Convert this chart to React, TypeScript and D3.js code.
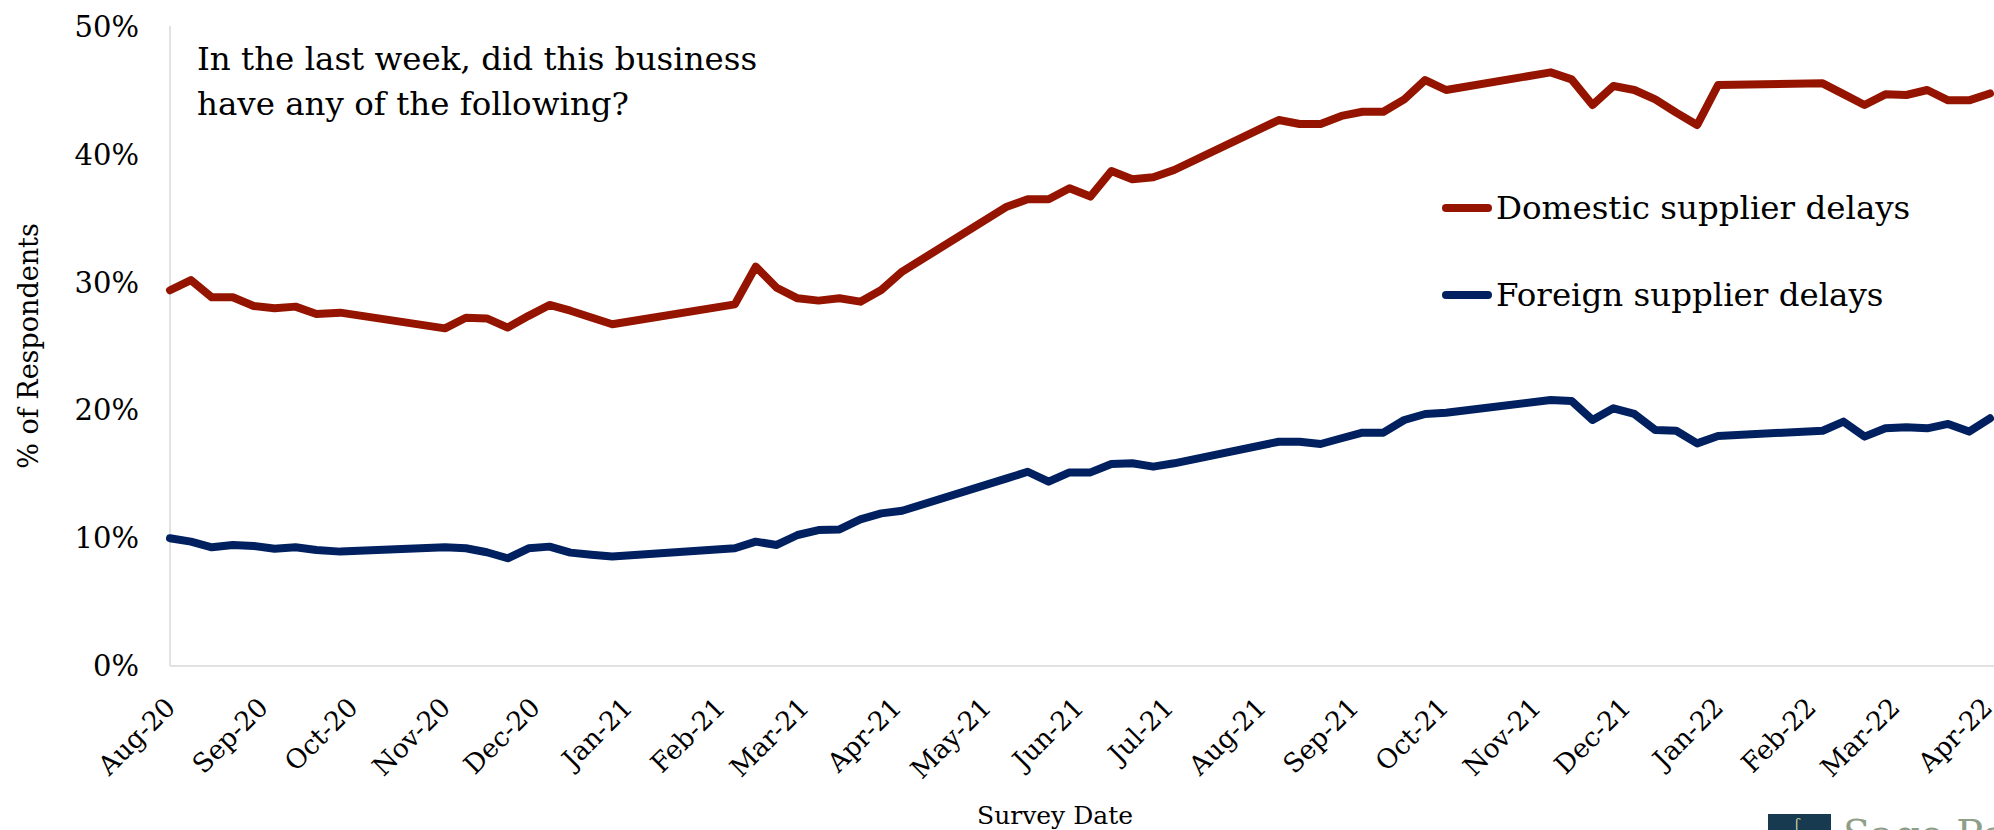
import React, { useEffect } from "react";
import * as d3 from "d3";

// ---- data (weekly survey dates, % of respondents) ----
const surveyDates = [
  "2020-08-09", "2020-08-16", "2020-08-23", "2020-08-30", "2020-09-06", "2020-09-13", "2020-09-20", "2020-09-27", "2020-10-05",
  "2020-11-09", "2020-11-16", "2020-11-23", "2020-11-30", "2020-12-07", "2020-12-14", "2020-12-21", "2020-12-28", "2021-01-04",
  "2021-02-14", "2021-02-21", "2021-02-28", "2021-03-07", "2021-03-14", "2021-03-21", "2021-03-28", "2021-04-04", "2021-04-11",
  "2021-05-16", "2021-05-23", "2021-05-30", "2021-06-06", "2021-06-13", "2021-06-20", "2021-06-27", "2021-07-04", "2021-07-11",
  "2021-08-15", "2021-08-22", "2021-08-29", "2021-09-05", "2021-09-12", "2021-09-19", "2021-09-26", "2021-10-03", "2021-10-10",
  "2021-11-14", "2021-11-21", "2021-11-28", "2021-12-05", "2021-12-12", "2021-12-19", "2021-12-26", "2022-01-02", "2022-01-09",
  "2022-02-13", "2022-02-20", "2022-02-27", "2022-03-06", "2022-03-13", "2022-03-20", "2022-03-27", "2022-04-03", "2022-04-10",
];

const domesticDelays = [
  29.4, 30.2, 28.85, 28.85, 28.17, 27.99, 28.12, 27.54, 27.65,
  26.42, 27.25, 27.2, 26.48, 27.4, 28.25, 27.8, 27.27, 26.74,
  28.3, 31.25, 29.6, 28.77, 28.59, 28.77, 28.51, 29.42, 30.86,
  35.94, 36.52, 36.52, 37.38, 36.73, 38.73, 38.08, 38.24, 38.81,
  42.72, 42.41, 42.41, 43.04, 43.37, 43.37, 44.34, 45.85, 45.07,
  46.45, 45.9, 43.9, 45.38, 45.07, 44.34, 43.3, 42.33, 45.46,
  45.59, 44.75, 43.9, 44.73, 44.68, 45.07, 44.26, 44.26, 44.8,
];

const foreignDelays = [
  10.0, 9.73, 9.29, 9.47, 9.39, 9.18, 9.29, 9.08, 8.95,
  9.29, 9.21, 8.9, 8.43, 9.21, 9.34, 8.87, 8.7, 8.56,
  9.21, 9.73, 9.47, 10.25, 10.64, 10.69, 11.47, 11.94, 12.15,
  14.68, 15.2, 14.42, 15.15, 15.15, 15.8, 15.86, 15.6, 15.86,
  17.55, 17.55, 17.37, 17.82, 18.26, 18.26, 19.25, 19.72, 19.82,
  20.81, 20.74, 19.25, 20.16, 19.72, 18.47, 18.41, 17.42, 18.0,
  18.41, 19.12, 17.95, 18.6, 18.68, 18.6, 18.94, 18.34, 19.38,
];

const yTicks = [0, 10, 20, 30, 40, 50];
const axisStart = "2020-08-09";
const axisEnd = "2022-04-10";
const monthTickCount = 21;

const seriesNames = ["Domestic supplier delays", "Foreign supplier delays"];
const seriesColors = ["#941400", "#002060"];
const titleLines = ["In the last week, did this business", "have any of the following?"];

const FONT = "'DejaVu Serif', serif";

export default function App() {
  useEffect(() => {
    document.body.style.margin = "0";
  }, []);

  const W = 1994;
  const H = 830;
  const left = 170;
  const right = 1990;
  const top = 27;
  const bottom = 666;

  const parse = d3.timeParse("%Y-%m-%d");
  const dates = surveyDates.map((s) => parse(s) as Date);
  const x = d3.scaleTime().domain([parse(axisStart) as Date, parse(axisEnd) as Date]).range([left, right]);
  const y = d3.scaleLinear().domain([0, 50]).range([bottom, top]);

  const monthTicks = d3.range(monthTickCount).map((i) => d3.timeMonth.offset(parse(axisStart) as Date, i));
  const fmt = d3.timeFormat("%b-%y");

  const line = d3
    .line<number>()
    .x((_, i) => x(dates[i]))
    .y((v) => y(v));

  const series = [domesticDelays, foreignDelays];

  return (
    <svg width={W} height={H} style={{ display: "block", position: "absolute", left: 0, top: 0, background: "#fff" }} fontFamily={FONT}>
      <rect x={0} y={0} width={W} height={H} fill="#ffffff" />
      {/* axes */}
      <line x1={left} x2={left} y1={top - 1} y2={bottom} stroke="#d9d9d9" strokeWidth={1.5} />
      <line x1={left} x2={W} y1={bottom} y2={bottom} stroke="#d9d9d9" strokeWidth={1.5} />

      {/* y tick labels */}
      {yTicks.map((t) => (
        <text key={t} x={139} y={y(t) + 10} textAnchor="end" fontSize={29} fill="#000">
          {t}%
        </text>
      ))}

      {/* x tick labels */}
      {monthTicks.map((d, i) => (
        <text
          key={i}
          transform={`translate(${x(d) + 7},${709}) rotate(-45)`}
          textAnchor="end"
          fontSize={26.5}
          fill="#000"
        >
          {fmt(d)}
        </text>
      ))}

      {/* lines */}
      {series.map((s, k) => (
        <path
          key={k}
          d={line(s) || ""}
          fill="none"
          stroke={seriesColors[k]}
          strokeWidth={8}
          strokeLinejoin="round"
          strokeLinecap="round"
        />
      ))}

      {/* title */}
      {titleLines.map((t, i) => (
        <text key={i} x={197} y={70 + i * 45} fontSize={32.5} fill="#000">
          {t}
        </text>
      ))}

      {/* legend */}
      {seriesNames.map((n, i) => (
        <g key={n} transform={`translate(0,${208 + i * 87})`}>
          <line x1={1446} x2={1488} y1={0} y2={0} stroke={seriesColors[i]} strokeWidth={8} strokeLinecap="round" />
          <text x={1496} y={11} fontSize={32.5} fill="#000">
            {n}
          </text>
        </g>
      ))}

      {/* axis titles */}
      <text transform={`translate(38,346) rotate(-90)`} textAnchor="middle" fontSize={27} fill="#000">
        % of Respondents
      </text>
      <text x={1055} y={824} textAnchor="middle" fontSize={25} fill="#000">
        Survey Date
      </text>

      {/* logo */}
      <rect x={1768} y={814} width={63} height={20} fill="#173a50" />
      <text x={1795} y={829} fontSize={14} fill="#c9c7a0">ʗ</text>
      <text x={1843} y={848} fontSize={40} fill="#8e9e88">
        Sage Policy Group
      </text>
    </svg>
  );
}
